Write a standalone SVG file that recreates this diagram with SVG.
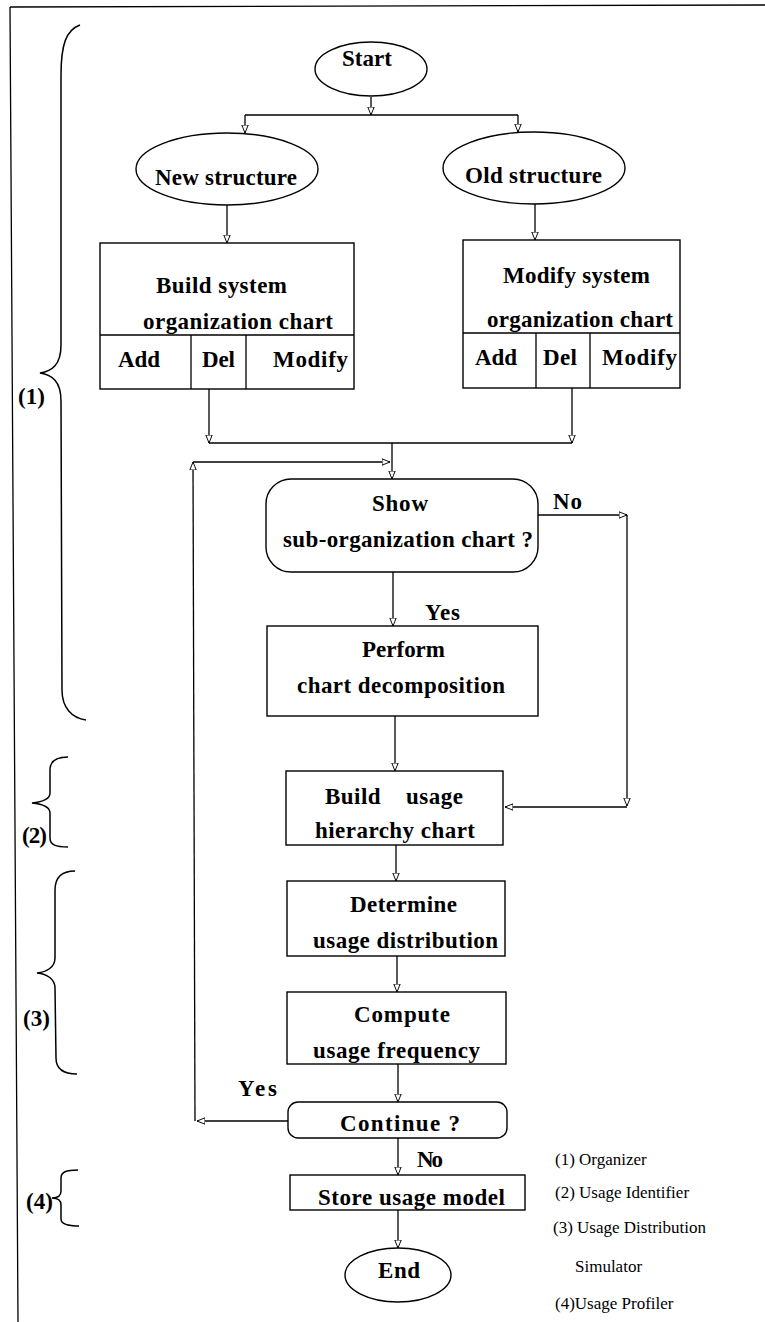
<svg xmlns="http://www.w3.org/2000/svg" width="765" height="1322" viewBox="0 0 765 1322">
<style>
.sh{fill:#fff;stroke:#000;stroke-width:1.4}
.ln{fill:none;stroke:#000;stroke-width:1.3}
.br{fill:none;stroke:#000;stroke-width:1.5}
.ar{fill:none;stroke:#000;stroke-width:1.3;marker-end:url(#ah)}
.t{font-family:"Liberation Serif","Times New Roman",serif;font-weight:bold;font-size:23px;fill:#000}
.lg{font-family:"Liberation Serif","Times New Roman",serif;font-size:17px;fill:#000}
</style>
<defs>
<marker id="ah" viewBox="0 0 10 10" refX="10" refY="5" markerWidth="8" markerHeight="8" markerUnits="userSpaceOnUse" orient="auto">
<path d="M0,1 L10,5 L0,9 z" fill="#fff" stroke="#000" stroke-width="1.2"/>
</marker>
</defs>
<rect x="0" y="0" width="765" height="1322" fill="#fff"/>
<g id="frame">
<path class="ln" d="M10,7 L765,5 M10,7 L18,1322"/>
</g>
<g id="braces">
<path class="br" d="M80,25 C66,30 61,45 61,75 L61,345 C61,365 52,371 40,373 C52,375 61,381 61,401 L62,690 C62,708 72,718 86,720"/>
<path class="br" d="M68,757 C56,757 50,761 50,770 L50,793 C50,799 42,802 32,803 C42,804 50,807 50,813 L50,838 C50,845 56,847 68,847"/>
<path class="br" d="M75,871 C62,871 55,877 55,890 L55,958 C55,967 47,972 37,973 C47,974 55,979 55,988 L56,1058 C56,1069 64,1074 77,1074"/>
<path class="br" d="M78,1170 C66,1170 61,1172 61,1178 L61,1191 C61,1196 57,1198 52,1198 C57,1198 61,1200 61,1205 L61,1219 C61,1224 67,1226 79,1226"/>
<text class="t" x="18" y="404" textLength="27">(1)</text>
<text class="t" x="22" y="843" textLength="25">(2)</text>
<text class="t" x="23" y="1026" textLength="27">(3)</text>
<text class="t" x="26" y="1209" textLength="27">(4)</text>
</g>
<g id="connectors">
<path class="ar" d="M371,97 L371,115"/>
<path class="ln" d="M245,115 L518,115"/>
<path class="ar" d="M245,115 L245,133"/>
<path class="ar" d="M518,115 L518,132"/>
<path class="ar" d="M227,205 L227,243"/>
<path class="ar" d="M535,204 L535,240"/>
<path class="ar" d="M209,389 L209,443"/>
<path class="ar" d="M572,388 L572,443"/>
<path class="ln" d="M209,443 L572,443"/>
<path class="ar" d="M392,443 L392,479"/>
<path class="ar" d="M288,1121 L197,1121"/>
<path class="ar" d="M195,1121 L193,462"/>
<path class="ar" d="M193,462 L390,462"/>
<path class="ar" d="M538,515 L627,515"/>
<path class="ar" d="M627,515 L627,806"/>
<path class="ar" d="M627,807 L505,807"/>
<path class="ar" d="M393,572 L393,626"/>
<path class="ar" d="M395,716 L395,771"/>
<path class="ar" d="M396,845 L396,881"/>
<path class="ar" d="M397,956 L397,992"/>
<path class="ar" d="M398,1064 L398,1102"/>
<path class="ar" d="M398,1138 L398,1175"/>
<path class="ar" d="M398,1210 L398,1248"/>
<text class="t" x="553" y="509" textLength="29">No</text>
<text class="t" x="425" y="620" textLength="35">Yes</text>
<text class="t" x="238" y="1096" textLength="39">Yes</text>
<text class="t" x="417" y="1167" textLength="26">No</text>
</g>
<g id="start">
<ellipse class="sh" cx="371" cy="69" rx="56" ry="27"/>
<text class="t" x="342" y="66" textLength="50">Start</text>
</g>
<g id="new-structure">
<ellipse class="sh" cx="227" cy="169" rx="91" ry="36"/>
<text class="t" x="155" y="185" textLength="142">New structure</text>
</g>
<g id="old-structure">
<ellipse class="sh" cx="534" cy="168" rx="91" ry="36"/>
<text class="t" x="465" y="183" textLength="137">Old structure</text>
</g>
<g id="build-system">
<rect class="sh" x="100" y="243" width="254" height="146"/>
<path class="ln" d="M100,335 L354,335 M191,335 L191,389 M246,335 L246,389"/>
<text class="t" x="156" y="293" textLength="131">Build system</text>
<text class="t" x="143" y="329" textLength="190">organization chart</text>
<text class="t" x="118" y="367" textLength="42">Add</text>
<text class="t" x="202" y="367" textLength="33">Del</text>
<text class="t" x="273" y="367" textLength="75">Modify</text>
</g>
<g id="modify-system">
<rect class="sh" x="463" y="240" width="217" height="148"/>
<path class="ln" d="M463,333 L680,333 M536,333 L536,388 M590,333 L590,388"/>
<text class="t" x="503" y="283" textLength="147">Modify system</text>
<text class="t" x="487" y="327" textLength="186">organization chart</text>
<text class="t" x="475" y="365" textLength="42">Add</text>
<text class="t" x="543" y="365" textLength="34">Del</text>
<text class="t" x="602" y="365" textLength="75">Modify</text>
</g>
<g id="show-sub">
<rect class="sh" x="266" y="479" width="272" height="93" rx="25" ry="25"/>
<text class="t" x="372" y="511" textLength="56">Show</text>
<text class="t" x="283" y="547" textLength="250">sub-organization chart ?</text>
</g>
<g id="perform">
<rect class="sh" x="267" y="626" width="271" height="90"/>
<text class="t" x="362" y="657" textLength="83">Perform</text>
<text class="t" x="297" y="693" textLength="208">chart decomposition</text>
</g>
<g id="build-usage">
<rect class="sh" x="286" y="771" width="217" height="74"/>
<text class="t" x="325" y="804" textLength="138" xml:space="preserve">Build    usage</text>
<text class="t" x="315" y="838" textLength="160">hierarchy chart</text>
</g>
<g id="determine">
<rect class="sh" x="287" y="881" width="218" height="75"/>
<text class="t" x="350" y="912" textLength="107">Determine</text>
<text class="t" x="313" y="948" textLength="185">usage distribution</text>
</g>
<g id="compute">
<rect class="sh" x="287" y="992" width="219" height="72"/>
<text class="t" x="354" y="1022" textLength="96">Compute</text>
<text class="t" x="313" y="1058" textLength="167">usage frequency</text>
</g>
<g id="continue">
<rect class="sh" x="288" y="1102" width="219" height="36" rx="10" ry="10"/>
<text class="t" x="340" y="1131" textLength="120">Continue ?</text>
</g>
<g id="store">
<rect class="sh" x="290" y="1175" width="235" height="35"/>
<text class="t" x="318" y="1205" textLength="187">Store usage model</text>
</g>
<g id="end">
<ellipse class="sh" cx="398" cy="1275" rx="53" ry="27"/>
<text class="t" x="378" y="1278" textLength="42">End</text>
</g>
<g id="legend">
<text class="lg" x="555" y="1165">(1) Organizer</text>
<text class="lg" x="555" y="1198">(2) Usage Identifier</text>
<text class="lg" x="553" y="1233">(3) Usage Distribution</text>
<text class="lg" x="575" y="1272">Simulator</text>
<text class="lg" x="555" y="1309">(4)Usage Profiler</text>
</g>
</svg>
